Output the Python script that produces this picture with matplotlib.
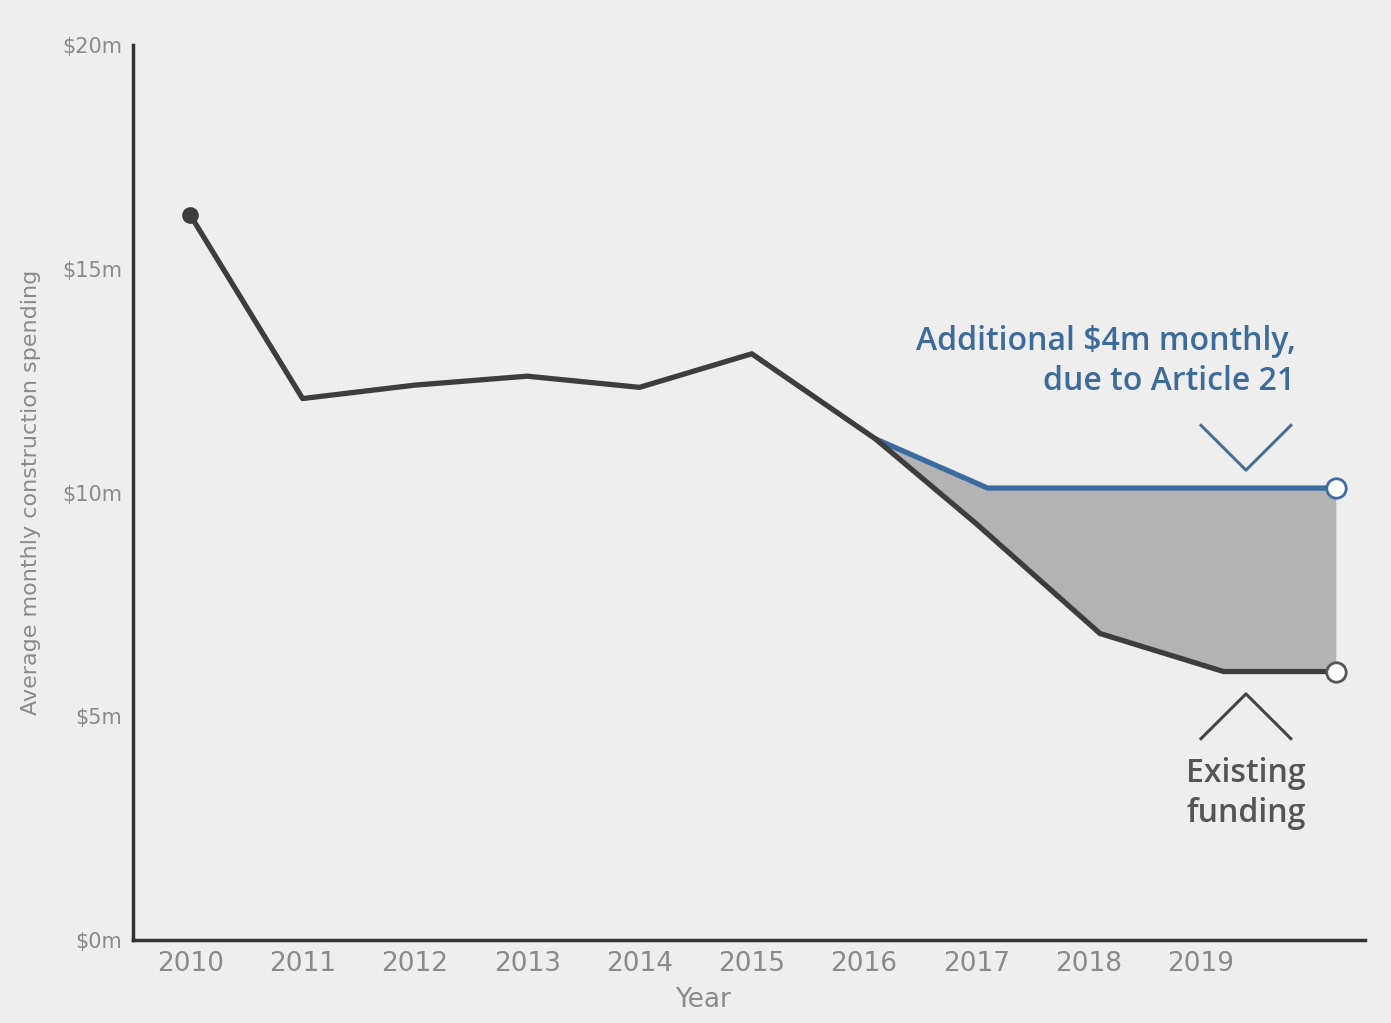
import numpy as np
import matplotlib.pyplot as plt

# values
years = [2010, 2011, 2012, 2013, 2014, 2015, 2016.1, 2017, 2018.1, 2019.2, 2020.2]
existing = [16.2, 12.1, 12.4, 12.6, 12.35, 13.1, 11.2, 9.3, 6.85, 6.0, 6.0]

art21_years = [2016.1, 2017.1, 2020.2]
art21 = [11.2, 10.1, 10.1]

tick_years = [2010, 2011, 2012, 2013, 2014, 2015, 2016, 2017, 2018, 2019]
y_ticks = [0, 5, 10, 15, 20]
y_labels = ['$0m', '$5m', '$10m', '$15m', '$20m']

narrow = ['Liberation Sans Narrow', 'DejaVu Sans']
note_font = ['Open Sans', 'DejaVu Sans']
bg = '#eeeeee'

fig = plt.figure(figsize=(13.91, 10.23), dpi=100, facecolor=bg)
ax = fig.add_axes([0.0956, 0.0811, 0.8857, 0.8749], facecolor=bg)

# gap between existing funding and funding with Article 21
fill_xx = sorted([x for x in years if x >= art21_years[0]] + [art21_years[1]])
low_i = np.interp(fill_xx, years, existing)
high_i = np.interp(fill_xx, art21_years, art21)
ax.fill_between(fill_xx, low_i, high_i, color='#b3b3b3', zorder=1, lw=0)

ax.plot(art21_years, art21, color='#3c6ba0', lw=3.8, zorder=2, solid_capstyle='round')
ax.plot(years, existing, color='#3d3d3d', lw=3.8, zorder=3, solid_joinstyle='round')

ax.plot(years[0], existing[0], 'o', color='#3d3d3d', ms=11, zorder=4)
ax.plot(years[-1], existing[-1], 'o', mfc='white', mec='#555555', mew=2, ms=14, zorder=5)
ax.plot(art21_years[-1], art21[-1], 'o', mfc='white', mec='#3c6ba0', mew=2, ms=14, zorder=5)

ax.set_xlim(2009.49, 2020.46)
ax.set_ylim(0, 20)

ax.set_xticks(tick_years)
ax.set_xticklabels([str(y) for y in tick_years], family=narrow, fontsize=19, color='#8a8a8a')
ax.set_yticks(y_ticks)
ax.set_yticklabels(y_labels, family=narrow, fontsize=15, color='#8a8a8a')
ax.tick_params(length=0, pad=8)

for s in ['top', 'right']:
    ax.spines[s].set_visible(False)
for s in ['left', 'bottom']:
    ax.spines[s].set_color('#333333')
    ax.spines[s].set_linewidth(2.5)

ax.set_xlabel('Year', family=narrow, fontsize=19, color='#8a8a8a')
ax.xaxis.set_label_coords(0.463, -0.052)
ax.set_ylabel('Average monthly construction spending', family=narrow, fontsize=16,
              color='#8a8a8a')
ax.yaxis.set_label_coords(-0.075, 0.5)

# annotations
ax.text(2019.84, 12.93, 'Additional $4m monthly,\ndue to Article 21', ha='right', va='center',
        fontsize=23, color='#3d6b9a', family=note_font, weight='semibold', linespacing=1.3)
ax.plot([2019.0, 2019.4, 2019.8], [11.5, 10.5, 11.5], color='#4a6f95', lw=2.2)

ax.plot([2019.0, 2019.4, 2019.8], [4.5, 5.5, 4.5], color='#444444', lw=2.2)
ax.text(2019.4, 3.28, 'Existing\nfunding', ha='center', va='center', fontsize=23,
        color='#555555', family=note_font, weight='semibold', linespacing=1.3)

fig.savefig('out.png', dpi=100, facecolor=bg)
